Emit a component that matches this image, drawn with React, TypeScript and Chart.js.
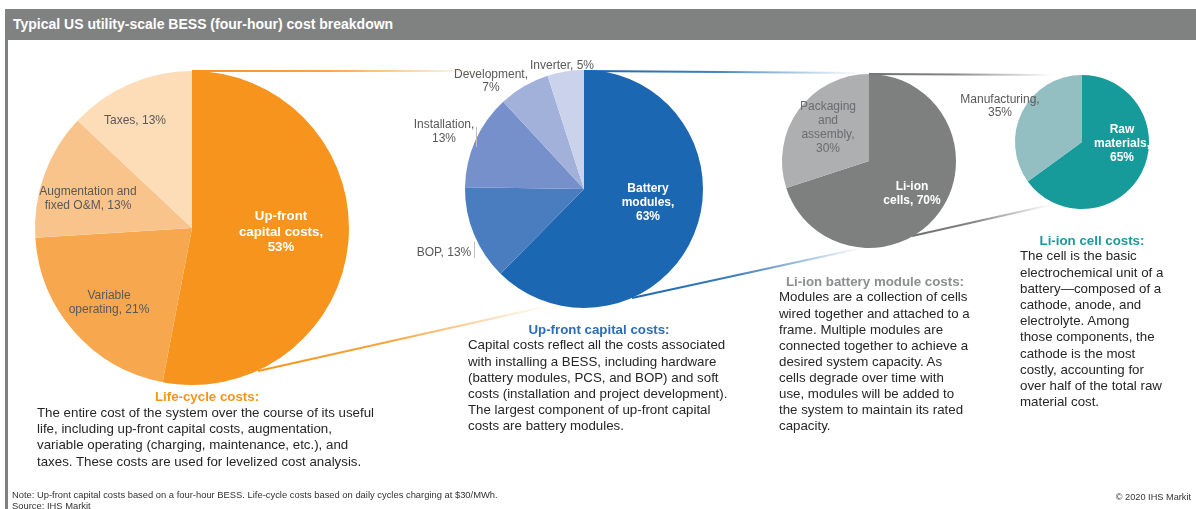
import React, { useEffect, useRef } from "react";
import { Chart, registerables } from "chart.js";

Chart.register(...registerables);

const W = 1196;
const H = 509;
const FONT = "'Liberation Sans', Arial, Helvetica, sans-serif";

// ---------- data ----------
const lifeCycleCategories = ["Up-front\ncapital costs", "Variable\noperating", "Augmentation and\nfixed O&M", "Taxes"];
const lifeCycleShares = [53, 21, 13, 13];

const capitalCategories = ["Battery\nmodules", "BOP", "Installation", "Development", "Inverter"];
const capitalShares = [63, 13, 13, 7, 5];

const moduleCategories = ["Li-ion\ncells", "Packaging\nand\nassembly"];
const moduleShares = [70, 30];

const cellCategories = ["Raw\nmaterials", "Manufacturing"];
const cellShares = [65, 35];

// ---------- styles / layout ----------
const lifeCycleColors = ["#F7941D", "#F7A84E", "#F9C48B", "#FCDDB8"];
const capitalColors = ["#1C67B1", "#4A7CC0", "#7590CB", "#A1B1DA", "#CBD3EC"];
const moduleColors = ["#7E8080", "#ADAFB1"];
const cellColors = ["#169A9A", "#93BFC3"];

type LabelCfg = {
  newLine: boolean[];
  offsets: [number, number][];
  colors: string[];
  fonts: string[];
  lineHeights: number[];
  leaders?: ([number, number, number, number] | null)[];
};

type PieSpec = {
  categories: string[];
  values: number[];
  colors: string[];
  cx: number;
  cy: number;
  r: number;
  labels: LabelCfg;
  connectors?: { from: [number, number]; to: [number, number]; rgb: string }[];
};

const GREY = "#595959";
const WHITE = "#FFFFFF";
const F12 = `12px ${FONT}`;
const B12 = `bold 12px ${FONT}`;
const B13 = `bold 13.3px ${FONT}`;

const pies: PieSpec[] = [
  {
    categories: lifeCycleCategories,
    values: lifeCycleShares,
    colors: lifeCycleColors,
    cx: 192,
    cy: 228,
    r: 157,
    labels: {
      newLine: [true, false, false, false],
      offsets: [[89, 4], [-83, 75], [-104, -29], [-57, -107]],
      colors: [WHITE, GREY, GREY, GREY],
      fonts: [B13, F12, F12, F12],
      lineHeights: [15.5, 13.7, 13.7, 13.7],
    },
    connectors: [
      { from: [192, 71], to: [480, 71], rgb: "247,148,29" },
      { from: [258, 371], to: [548, 306], rgb: "247,148,29" },
      { from: [584, 71], to: [860, 73], rgb: "28,103,177" },
      { from: [632, 298], to: [862, 248], rgb: "28,103,177" },
      { from: [869, 74], to: [1052, 75], rgb: "110,112,112" },
      { from: [912, 236], to: [1050, 205], rgb: "110,112,112" },
    ],
  },
  {
    categories: capitalCategories,
    values: capitalShares,
    colors: capitalColors,
    cx: 584,
    cy: 189,
    r: 119,
    labels: {
      newLine: [true, false, true, true, false],
      offsets: [[64, 14], [-140, 64], [-140, -57], [-93, -108], [-22, -123]],
      colors: [WHITE, GREY, GREY, GREY, GREY],
      fonts: [B12, F12, F12, F12, F12],
      lineHeights: [14, 13.7, 13.7, 13.2, 13.7],
      leaders: [null, [-110, 53, -110, 69], [-108, -62, -108, -42], null, null],
    },
  },
  {
    categories: moduleCategories,
    values: moduleShares,
    colors: moduleColors,
    cx: 869,
    cy: 161,
    r: 87,
    labels: {
      newLine: [false, true],
      offsets: [[43, 33], [-41, -33]],
      colors: [WHITE, "#6A6C6D"],
      fonts: [B12, F12],
      lineHeights: [14, 14],
    },
  },
  {
    categories: cellCategories,
    values: cellShares,
    colors: cellColors,
    cx: 1082,
    cy: 142,
    r: 67,
    labels: {
      newLine: [true, true],
      offsets: [[40, 2], [-82, -36]],
      colors: [WHITE, GREY],
      fonts: [B12, F12],
      lineHeights: [14, 13.5],
    },
  },
];

// ---------- plugins ----------
const connectorPlugin = {
  id: "connectors",
  beforeDatasetsDraw(chart: any, _args: any, opts: any) {
    const list = opts && opts.items;
    if (!list) return;
    const ctx = chart.ctx as CanvasRenderingContext2D;
    list.forEach((c: any) => {
      const g = ctx.createLinearGradient(c.from[0], c.from[1], c.to[0], c.to[1]);
      g.addColorStop(0, `rgba(${c.rgb},1)`);
      g.addColorStop(0.45, `rgba(${c.rgb},0.85)`);
      g.addColorStop(1, `rgba(${c.rgb},0)`);
      ctx.save();
      ctx.strokeStyle = g;
      ctx.lineWidth = 2;
      ctx.beginPath();
      ctx.moveTo(c.from[0], c.from[1]);
      ctx.lineTo(c.to[0], c.to[1]);
      ctx.stroke();
      ctx.restore();
    });
  },
};

const pieLabelPlugin = {
  id: "pieLabels",
  afterDatasetsDraw(chart: any, _args: any, opts: any) {
    if (!opts || !opts.newLine) return;
    const meta = chart.getDatasetMeta(0);
    const ctx = chart.ctx as CanvasRenderingContext2D;
    const labels = chart.data.labels as string[];
    const values = chart.data.datasets[0].data as number[];
    meta.data.forEach((arc: any, i: number) => {
      const { x, y } = arc.getProps(["x", "y"], true);
      const text = `${labels[i]},${opts.newLine[i] ? "\n" : " "}${values[i]}%`;
      const lines = text.split("\n");
      const lh = opts.lineHeights[i];
      const [dx, dy] = opts.offsets[i];
      ctx.save();
      ctx.font = opts.fonts[i];
      ctx.fillStyle = opts.colors[i];
      ctx.textAlign = "center";
      ctx.textBaseline = "middle";
      const top = y + dy - ((lines.length - 1) * lh) / 2;
      lines.forEach((l, k) => ctx.fillText(l, x + dx, top + k * lh));
      const ld = opts.leaders && opts.leaders[i];
      if (ld) {
        ctx.strokeStyle = "#BFBFBF";
        ctx.lineWidth = 1;
        ctx.beginPath();
        ctx.moveTo(x + ld[0] + 0.5, y + ld[1]);
        ctx.lineTo(x + ld[2] + 0.5, y + ld[3]);
        ctx.stroke();
      }
      ctx.restore();
    });
  },
};

// ---------- components ----------
function PieCanvas({ spec }: { spec: PieSpec }) {
  const ref = useRef<HTMLCanvasElement | null>(null);
  useEffect(() => {
    if (!ref.current) return;
    const chart = new Chart(ref.current, {
      type: "pie",
      data: {
        labels: spec.categories,
        datasets: [
          {
            data: spec.values,
            backgroundColor: spec.colors,
            borderWidth: 0,
            hoverOffset: 0,
            offset: 0,
          },
        ],
      },
      options: {
        responsive: false,
        maintainAspectRatio: false,
        animation: false,
        events: [],
        layout: {
          padding: {
            left: spec.cx - spec.r,
            top: spec.cy - spec.r,
            right: W - spec.cx - spec.r,
            bottom: H - spec.cy - spec.r,
          },
        },
        plugins: {
          legend: { display: false },
          tooltip: { enabled: false },
          connectors: { items: spec.connectors || null },
          pieLabels: spec.labels,
        } as any,
      },
      plugins: [connectorPlugin, pieLabelPlugin],
    });
    return () => chart.destroy();
  }, [spec]);
  return (
    <canvas
      ref={ref}
      width={W}
      height={H}
      style={{ position: "absolute", left: 0, top: 0, width: W, height: H, pointerEvents: "none" }}
    />
  );
}

const bodyStyle: React.CSSProperties = {
  position: "absolute",
  fontFamily: FONT,
  fontSize: "13.3px",
  color: "#262626",
  whiteSpace: "nowrap",
};

function Heading({ text, cx, cy, color }: { text: string; cx: number; cy: number; color: string }) {
  return (
    <div
      style={{
        ...bodyStyle,
        left: cx - 200,
        width: 400,
        top: cy - 8,
        lineHeight: "16px",
        textAlign: "center",
        fontWeight: "bold",
        color,
      }}
    >
      {text}
    </div>
  );
}

function Body({ lines, left, firstY, lh }: { lines: string[]; left: number; firstY: number; lh: number }) {
  return (
    <div style={{ ...bodyStyle, left, top: firstY - lh / 2, lineHeight: `${lh}px` }}>
      {lines.map((l, i) => (
        <div key={i}>{l}</div>
      ))}
    </div>
  );
}

const lifeText = [
  "The entire cost of the system over the course of its useful",
  "life, including up-front capital costs, augmentation,",
  "variable operating (charging, maintenance, etc.), and",
  "taxes. These costs are used for levelized cost analysis.",
];
const capitalText = [
  "Capital costs reflect all the costs associated",
  "with installing a BESS, including hardware",
  "(battery modules, PCS, and BOP) and soft",
  "costs (installation and project development).",
  "The largest component of up-front capital",
  "costs are battery modules.",
];
const moduleText = [
  "Modules are a collection of cells",
  "wired together and attached to a",
  "frame. Multiple modules are",
  "connected together to achieve a",
  "desired system capacity. As",
  "cells degrade over time with",
  "use, modules will be added to",
  "the system to maintain its rated",
  "capacity.",
];
const cellText = [
  "The cell is the basic",
  "electrochemical unit of a",
  "battery\u2014composed of a",
  "cathode, anode, and",
  "electrolyte. Among",
  "those components, the",
  "cathode is the most",
  "costly, accounting for",
  "over half of the total raw",
  "material cost.",
];

export default function App() {
  return (
    <div
      style={{
        position: "absolute",
        left: 0,
        top: 0,
        width: W,
        height: H,
        background: "#FFFFFF",
        overflow: "hidden",
        fontFamily: FONT,
      }}
    >
      <div
        style={{
          position: "absolute",
          left: 5,
          top: 9,
          width: W - 5,
          height: 31,
          background: "#808281",
          color: "#FFFFFF",
          fontWeight: "bold",
          fontSize: "14px",
          lineHeight: "31px",
          paddingLeft: 8,
          boxSizing: "border-box",
          whiteSpace: "nowrap",
        }}
      >
        Typical US utility-scale BESS (four-hour) cost breakdown
      </div>
      <div style={{ position: "absolute", left: 5, top: 40, width: 3, height: H - 40, background: "#808281" }} />

      {pies.map((p, i) => (
        <PieCanvas key={i} spec={p} />
      ))}

      <Heading text="Life-cycle costs:" cx={207} cy={397} color="#F7941D" />
      <Body lines={lifeText} left={37} firstY={413} lh={16.3} />

      <Heading text="Up-front capital costs:" cx={599} cy={330} color="#2C6DB6" />
      <Body lines={capitalText} left={468} firstY={345.5} lh={16.2} />

      <Heading text="Li-ion battery module costs:" cx={875} cy={282} color="#8C8E8F" />
      <Body lines={moduleText} left={779} firstY={297.5} lh={16.1} />

      <Heading text="Li-ion cell costs:" cx={1092} cy={241} color="#1A9A9A" />
      <Body lines={cellText} left={1020} firstY={256.5} lh={16.2} />

      <div
        style={{
          position: "absolute",
          left: 12,
          top: 489,
          fontSize: "9.4px",
          lineHeight: "11px",
          color: "#333333",
          whiteSpace: "nowrap",
        }}
      >
        <div>Note: Up-front capital costs based on a four-hour BESS. Life-cycle costs based on daily cycles charging at $30/MWh.</div>
        <div>Source: IHS Markit</div>
      </div>
      <div
        style={{
          position: "absolute",
          right: W - 1191,
          top: 491.5,
          fontSize: "9.2px",
          lineHeight: "11px",
          color: "#333333",
          whiteSpace: "nowrap",
        }}
      >
        © 2020 IHS Markit
      </div>
    </div>
  );
}
